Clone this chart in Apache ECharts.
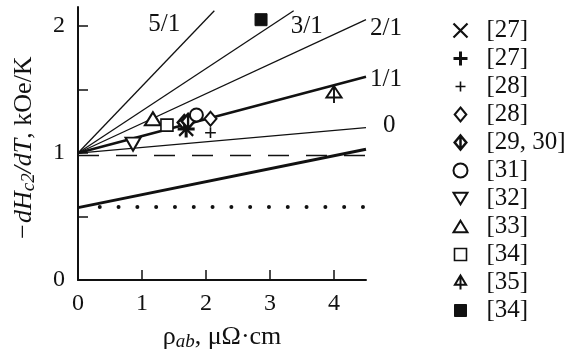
<!DOCTYPE html>
<html><head><meta charset="utf-8">
<script src="https://cdn.jsdelivr.net/npm/echarts@6/dist/echarts.min.js"></script>
<style>html,body{margin:0;padding:0;background:#fff}#c{width:577px;height:358px}</style>
</head><body><div id="c"></div>
<script>
// axis ticks
const xTicks = [0, 1, 2, 3, 4];
const yTicks = [0, 0.5, 1, 1.5, 2];
const yLabels = [0, 1, 2];
// reference lines [x, y] endpoints
const ray51 = [[0, 1.0], [2.13, 2.12]];
const ray31 = [[0, 1.0], [3.37, 2.12]];
const ray21 = [[0, 1.0], [4.5, 2.05]];
const ray11 = [[0, 1.0], [4.5, 1.6]];
const ray0 = [[0, 1.0], [4.5, 1.2]];
const lowerLine = [[0, 0.57], [4.5, 1.03]];
const dashedLine = [[0, 0.98], [4.5, 0.98]];
const dottedLine = [[0.34, 0.575], [4.5, 0.575]];
const rayLabels = ['5/1', '3/1', '2/1', '1/1', '0'];
// data points
const pts27x = [[1.69, 1.19]];
const pts27p = [[1.69, 1.19]];
const pts28p = [[2.07, 1.16]];
const pts28d = [[2.07, 1.27]];
const pts2930 = [[1.66, 1.24], [1.72, 1.25]];
const pts31 = [[1.85, 1.30]];
const pts32 = [[0.86, 1.07]];
const pts33 = [[1.17, 1.27]];
const pts34 = [[1.39, 1.22]];
const pts35 = [[4.0, 1.46]];
const pts34f = [[2.86, 2.05]];
const legendLabels = ['[27]', '[27]', '[28]', '[28]', '[29, 30]', '[31]', '[32]', '[33]', '[34]', '[35]', '[34]'];

const FONT = '"Liberation Serif", "Times New Roman", serif';
const BLK = '#111';

function lineSeries(data, width, type, label, off) {
  const s = {
    type: 'line', data: data, symbol: 'none', silent: true, animation: false,
    lineStyle: { color: BLK, width: width, type: type || 'solid' }, z: 2
  };
  if (label) {
    s.endLabel = { show: true, formatter: label, color: BLK, fontFamily: FONT, fontSize: 25, offset: off, distance: 0 };
  }
  return s;
}
const ptSeries = [
  { data: pts27x, symbol: 'path://M0,0L10,10M10,0L0,10', size: 14, fill: 'none', bw: 2.2 },
  { data: pts27p, symbol: 'path://M5,0L5,10M0,5L10,5', size: 17, fill: 'none', bw: 3 },
  { data: pts28p, symbol: 'path://M-2,-2M12,12M5,0L5,10M0,5L10,5', size: 15, fill: 'none', bw: 1.6 },
  { data: pts28d, symbol: 'path://M5,0L10,6L5,12L0,6Z', size: [12, 14], fill: '#fff', bw: 2 },
  { data: pts2930, symbol: 'path://M5,0L10,6L5,12L0,6ZM5,0L5,12', size: [13, 15], fill: '#fff', bw: 2.5 },
  { data: pts31, symbol: 'circle', size: 13, fill: '#fff', bw: 2 },
  { data: pts32, symbol: 'path://M0,0L12,0L6,10Z', size: [15, 13], fill: '#fff', bw: 2 },
  { data: pts33, symbol: 'path://M6,0L12,10L0,10Z', size: [16, 13], fill: '#fff', bw: 2 },
  { data: pts34, symbol: 'path://M-1,-1M13,13M0,0L12,0L12,12L0,12Z', size: 14, fill: '#fff', bw: 1.6 },
  { data: pts35, symbol: 'path://M6,0L12,10L0,10ZM6,0L6,15', size: [15, 17], fill: '#fff', bw: 2 },
  { data: pts34f, symbol: 'path://M-1,-1M13,13M0,0L12,0L12,12L0,12Z', size: 14, fill: BLK, bw: 1 }
];

const series = [
  lineSeries(ray51, 1.3, 'solid', rayLabels[0], [-66, 14]),
  lineSeries(ray31, 1.3, 'solid', rayLabels[1], [-3, 16]),
  lineSeries(ray21, 1.3, 'solid', rayLabels[2], [4, 9]),
  lineSeries(ray11, 2.6, 'solid', rayLabels[3], [4, 3]),
  lineSeries(ray0, 1.3, 'solid', rayLabels[4], [17, -2]),
  lineSeries(lowerLine, 3, 'solid'),
  lineSeries(dashedLine, 1.6, [21, 17]),
  lineSeries(dottedLine, 4, [0, 18.8])
];
series[7].lineStyle.cap = 'round';
ptSeries.forEach(function (p, i) {
  series.push({
    type: 'scatter', name: 's' + i, data: p.data, symbol: p.symbol, symbolSize: p.size,
    animation: false, z: 5,
    itemStyle: { color: p.fill, borderColor: BLK, borderWidth: p.bw, opacity: 1 }
  });
});

const chart = echarts.init(document.getElementById('c'), null, { renderer: 'canvas' });
chart.setOption({
  backgroundColor: '#fff',
  animation: false,
  grid: { left: 78, right: 211, top: 7, bottom: 78, containLabel: false },
  legend: {
    orient: 'vertical', left: 446, top: 13, itemWidth: 14, itemHeight: 14, itemGap: 3,
    selectedMode: false,
    data: ptSeries.map(function (p, i) {
      return { name: 's' + i, itemStyle: { borderWidth: p.bw, borderColor: BLK, color: p.fill } };
    }),
    formatter: function (n) { return legendLabels[+n.slice(1)]; },
    textStyle: { fontFamily: FONT, fontSize: 25, color: BLK, padding: [0, 0, 0, 14] }
  },
  xAxis: {
    type: 'value', min: 0, max: 4.5, interval: 1,
    axisLine: { lineStyle: { color: BLK, width: 2 } },
    axisTick: { inside: true, length: 10, lineStyle: { color: BLK, width: 1.5 }, customValues: xTicks },
    axisLabel: { color: BLK, fontFamily: FONT, fontSize: 24, margin: 12, customValues: xTicks },
    splitLine: { show: false },
    name: '{n|ρ}{s|ab}{n|, μΩ·cm}', nameLocation: 'middle', nameGap: 44,
    nameTextStyle: {
      fontFamily: FONT, color: BLK, fontSize: 26,
      rich: {
        n: { fontFamily: FONT, fontSize: 26, color: BLK },
        s: { fontFamily: FONT, fontSize: 19, fontStyle: 'italic', color: BLK, verticalAlign: 'bottom', padding: [8, 0, 0, 0] }
      }
    }
  },
  yAxis: {
    type: 'value', min: 0, max: 2.15, interval: 0.5,
    axisLine: { lineStyle: { color: BLK, width: 2 } },
    axisTick: { inside: true, length: 10, lineStyle: { color: BLK, width: 1.5 }, customValues: yTicks },
    axisLabel: { color: BLK, fontFamily: FONT, fontSize: 24, margin: 13, customValues: yLabels },
    splitLine: { show: false },
    name: '{i|−dH}{s|c2}{i|/dT}{n|, kOe/K}', nameLocation: 'middle', nameGap: 40,
    nameTextStyle: {
      fontFamily: FONT, color: BLK, fontSize: 26, padding: [0, 10, 0, 0],
      rich: {
        i: { fontFamily: FONT, fontSize: 26, fontStyle: 'italic', color: BLK },
        n: { fontFamily: FONT, fontSize: 26, color: BLK },
        s: { fontFamily: FONT, fontSize: 19, fontStyle: 'italic', color: BLK, verticalAlign: 'bottom', padding: [8, 0, 0, 0] }
      }
    }
  },
  series: series
});
</script></body></html>
